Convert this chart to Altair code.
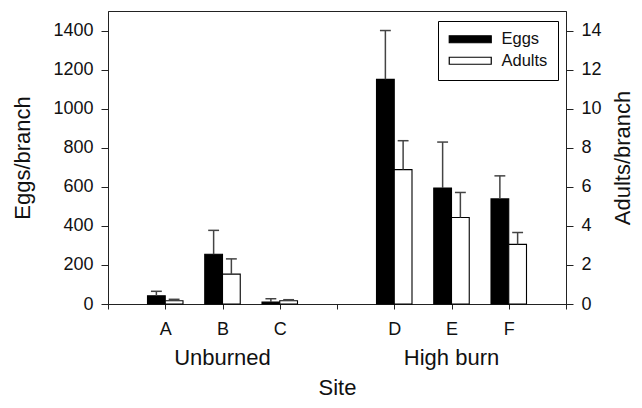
import altair as alt
import pandas as pd

# ---- data ----
sites = ["A", "B", "C", "D", "E", "F"]
positions = [1, 2, 3, 5, 6, 7]
eggs = [42, 255, 10, 1150, 594, 538]
eggs_err = [23, 122, 17, 250, 235, 118]
adults = [0.17, 1.53, 0.17, 6.88, 4.43, 3.05]
adults_err = [0.07, 0.78, 0.05, 1.48, 1.28, 0.61]
groups = ["Unburned", "High burn"]
group_pos = [2, 6]
series_names = ["Eggs", "Adults"]
x_ticks = [0, 1, 2, 3, 4, 5, 6, 7, 8]
eggs_ticks = [0, 200, 400, 600, 800, 1000, 1200, 1400]
adults_ticks = [0, 2, 4, 6, 8, 10, 12, 14]

df = pd.DataFrame({"site": sites, "pos": positions, "eggs": eggs,
                   "eggs_err": eggs_err, "adults": adults,
                   "adults_err": adults_err})
gdf = pd.DataFrame({"group": groups, "pos": group_pos})

FONT = "Liberation Sans"
BW = 0.31   # bar width in x units
CAP = 0.095  # half cap width in x units
ERR_COLOR = "#444444"
TICK_FS = 18

label_expr = " : ".join(
    [f"datum.value == {p} ? '{s}'" for p, s in zip(positions, sites)]) + " : ''"

x_axis = alt.Axis(values=x_ticks, labelExpr=label_expr, title="Site",
                  grid=False, tickSize=5, labelPadding=11, labelFontSize=TICK_FS,
                  titleFontSize=22, titlePadding=39, titleFontWeight="normal",
                  domainColor="#222", tickColor="#222", labelColor="#111",
                  titleColor="#111", labelFont=FONT, titleFont=FONT,
                  labelFlush=False)
x_scale = alt.Scale(domain=[0, 8], nice=False, zero=False, padding=0)

eggs_scale = alt.Scale(domain=[0, 1500], nice=False, padding=0)
adults_scale = alt.Scale(domain=[0, 15], nice=False, padding=0)

base = alt.Chart(df)

eggs_bars = base.transform_calculate(
    x1=f"datum.pos - {BW}", series="'Eggs'"
).mark_bar(stroke="black", strokeWidth=1.1).encode(
    x=alt.X("x1:Q", scale=x_scale, axis=x_axis),
    x2="pos:Q",
    y=alt.Y("eggs:Q", scale=eggs_scale,
            axis=alt.Axis(orient="left", values=eggs_ticks, title="Eggs/branch",
                          format="d",
                          grid=False, tickSize=7, labelPadding=8,
                          labelFontSize=TICK_FS, titleFontSize=22, titlePadding=18,
                          titleFontWeight="normal", domainColor="#222",
                          tickColor="#222", labelColor="#111", titleColor="#111",
                          labelFont=FONT, titleFont=FONT)),
    y2=alt.datum(0),
    color=alt.Color("series:N",
                    scale=alt.Scale(domain=series_names, range=["black", "white"]),
                    legend=alt.Legend(orient="none", legendX=330, legendY=10,
                                      title=None, strokeColor="black",
                                      fillColor="white", padding=10,
                                      symbolType="M-3,-0.5H3V0.5H-3Z",
                                      symbolSize=196, symbolOffset=14,
                                      symbolStrokeColor="black",
                                      symbolStrokeWidth=1.2, symbolOpacity=1,
                                      labelFontSize=16.5, labelOffset=23,
                                      rowPadding=4.5, labelFont=FONT,
                                      labelColor="#111")),
)

eggs_err_line = base.transform_calculate(
    xc=f"datum.pos - {BW / 2}", up="datum.eggs + datum.eggs_err"
).mark_rule(color=ERR_COLOR, strokeWidth=1.5).encode(
    x=alt.X("xc:Q", scale=x_scale),
    y=alt.Y("eggs:Q", scale=eggs_scale),
    y2="up:Q",
)
eggs_cap = base.transform_calculate(
    xa=f"datum.pos - {BW / 2} - {CAP}", xb=f"datum.pos - {BW / 2} + {CAP}",
    up="datum.eggs + datum.eggs_err"
).mark_rule(color=ERR_COLOR, strokeWidth=1.5).encode(
    x=alt.X("xa:Q", scale=x_scale),
    x2="xb:Q",
    y=alt.Y("up:Q", scale=eggs_scale),
)

adults_bars = base.transform_calculate(
    x2v=f"datum.pos + {BW}", series="'Adults'"
).mark_bar(stroke="black", strokeWidth=1.1).encode(
    x=alt.X("pos:Q", scale=x_scale),
    x2="x2v:Q",
    y=alt.Y("adults:Q", scale=adults_scale,
            axis=alt.Axis(orient="right", values=adults_ticks,
                          title="Adults/branch", titleAngle=-90,
                          titleBaseline="top",
                          grid=False, tickSize=7, labelPadding=8,
                          labelFontSize=TICK_FS, titleFontSize=22, titlePadding=11,
                          titleFontWeight="normal", domainColor="#222",
                          tickColor="#222", labelColor="#111", titleColor="#111",
                          labelFont=FONT, titleFont=FONT)),
    y2=alt.datum(0),
    color=alt.Color("series:N"),
)
adults_err_line = base.transform_calculate(
    xc=f"datum.pos + {BW / 2}", up="datum.adults + datum.adults_err"
).mark_rule(color=ERR_COLOR, strokeWidth=1.5).encode(
    x=alt.X("xc:Q", scale=x_scale),
    y=alt.Y("adults:Q", scale=adults_scale),
    y2="up:Q",
)
adults_cap = base.transform_calculate(
    xa=f"datum.pos + {BW / 2} - {CAP}", xb=f"datum.pos + {BW / 2} + {CAP}",
    up="datum.adults + datum.adults_err"
).mark_rule(color=ERR_COLOR, strokeWidth=1.5).encode(
    x=alt.X("xa:Q", scale=x_scale),
    x2="xb:Q",
    y=alt.Y("up:Q", scale=adults_scale),
)

group_text = alt.Chart(gdf).mark_text(
    fontSize=22, font=FONT, baseline="alphabetic", color="#111"
).encode(
    x=alt.X("pos:Q", scale=x_scale),
    y=alt.value(354),
    text="group:N",
)

eggs_layer = alt.layer(eggs_bars, eggs_err_line, eggs_cap)
adults_layer = alt.layer(adults_bars, adults_err_line, adults_cap)

chart = alt.layer(eggs_layer, adults_layer, group_text).resolve_scale(
    y="independent"
).properties(
    width=458, height=293,
    autosize=alt.AutoSizeParams(type="none"),
    padding={"left": 100, "top": 3, "right": 68, "bottom": 96},
    background="white",
).configure_view(stroke="#222", strokeWidth=1)

chart.save("out.html", embed_options={"renderer": "svg", "actions": False})
